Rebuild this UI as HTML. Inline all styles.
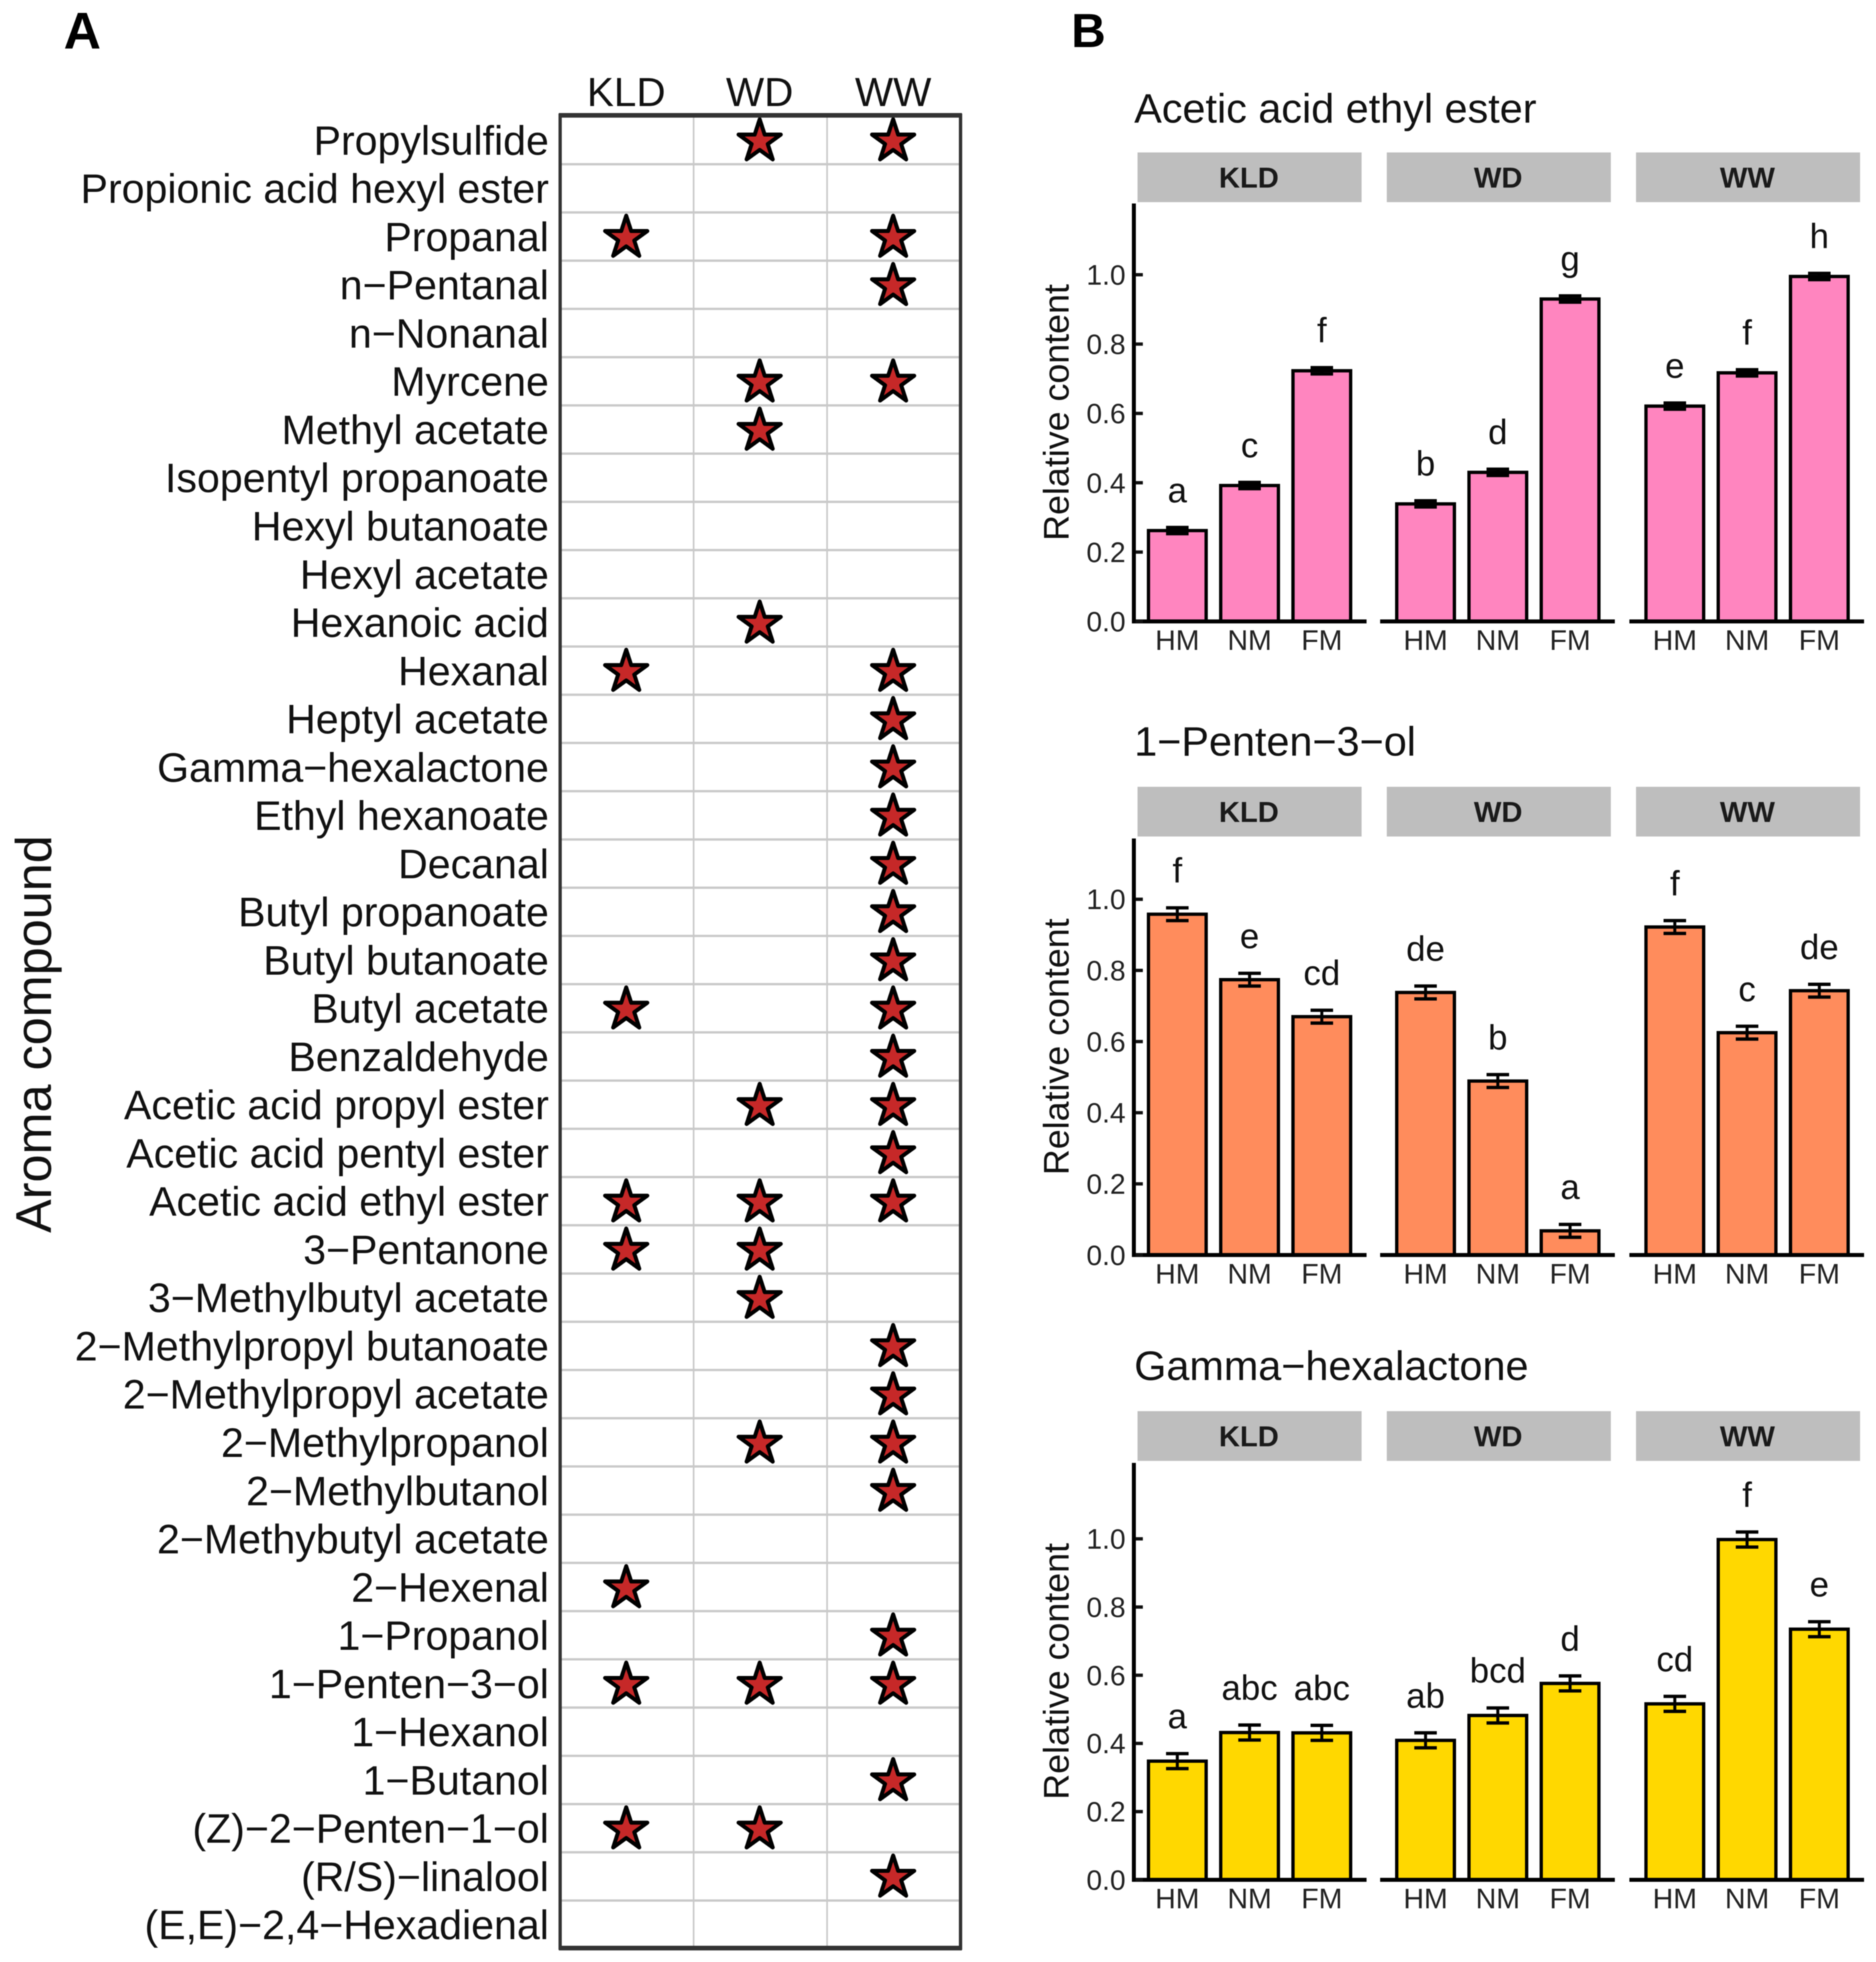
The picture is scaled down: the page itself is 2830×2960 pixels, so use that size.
<!DOCTYPE html>
<html lang="en">
<head>
<meta charset="utf-8">
<title>Aroma compounds and relative content</title>
<style>
html,body{margin:0;padding:0;background:#fff;}
svg{display:block;filter:blur(0.7px);}
text{font-family:"Liberation Sans",Arial,sans-serif;}
</style>
</head>
<body>
<svg id="figure" xmlns="http://www.w3.org/2000/svg" width="2830" height="2960" viewBox="0 0 2830 2960">
  <rect x="0" y="0" width="2830" height="2960" fill="#ffffff"/>
  <text x="96" y="73" font-size="78" font-weight="700" fill="#000">A</text>
  <text x="1616" y="71" font-size="72" font-weight="700" fill="#000">B</text>
  <text transform="translate(77,1560) rotate(-90)" text-anchor="middle" font-size="76" fill="#111">Aroma compound</text>
  <g id="panelA"></g>
  <g id="panelB"></g>
</svg>
<script>
// ---------- Panel A data ----------
const compounds = ["Propylsulfide","Propionic acid hexyl ester","Propanal","n−Pentanal","n−Nonanal","Myrcene","Methyl acetate","Isopentyl propanoate","Hexyl butanoate","Hexyl acetate","Hexanoic acid","Hexanal","Heptyl acetate","Gamma−hexalactone","Ethyl hexanoate","Decanal","Butyl propanoate","Butyl butanoate","Butyl acetate","Benzaldehyde","Acetic acid propyl ester","Acetic acid pentyl ester","Acetic acid ethyl ester","3−Pentanone","3−Methylbutyl acetate","2−Methylpropyl butanoate","2−Methylpropyl acetate","2−Methylpropanol","2−Methylbutanol","2−Methybutyl acetate","2−Hexenal","1−Propanol","1−Penten−3−ol","1−Hexanol","1−Butanol","(Z)−2−Penten−1−ol","(R/S)−linalool","(E,E)−2,4−Hexadienal"];
const treatments = ["KLD","WD","WW"];
const kldStars = ["Propanal","Hexanal","Butyl acetate","Acetic acid ethyl ester","3−Pentanone","2−Hexenal","1−Penten−3−ol","(Z)−2−Penten−1−ol"];
const wdStars = ["Propylsulfide","Myrcene","Methyl acetate","Hexanoic acid","Acetic acid propyl ester","Acetic acid ethyl ester","3−Pentanone","3−Methylbutyl acetate","2−Methylpropanol","1−Penten−3−ol","(Z)−2−Penten−1−ol"];
const wwStars = ["Propylsulfide","Propanal","n−Pentanal","Myrcene","Hexanal","Heptyl acetate","Gamma−hexalactone","Ethyl hexanoate","Decanal","Butyl propanoate","Butyl butanoate","Butyl acetate","Benzaldehyde","Acetic acid propyl ester","Acetic acid pentyl ester","Acetic acid ethyl ester","2−Methylpropyl butanoate","2−Methylpropyl acetate","2−Methylpropanol","2−Methylbutanol","1−Propanol","1−Penten−3−ol","1−Butanol","(R/S)−linalool"];

// ---------- Panel B data ----------
const stages = ["HM","NM","FM"];
const yTickValues = [0,0.2,0.4,0.6,0.8,1.0];
const yTickLabels = ["0.0","0.2","0.4","0.6","0.8","1.0"];
const aceticTitle = "Acetic acid ethyl ester";
const aceticValues = [0.262,0.392,0.723,0.339,0.430,0.930,0.621,0.717,0.995];
const aceticErrors = [0.009,0.009,0.009,0.009,0.009,0.009,0.009,0.009,0.009];
const aceticLetters = ["a","c","f","b","d","g","e","f","h"];
const pentenTitle = "1−Penten−3−ol";
const pentenValues = [0.958,0.774,0.670,0.738,0.489,0.068,0.922,0.625,0.743];
const pentenErrors = [0.018,0.018,0.018,0.018,0.018,0.018,0.018,0.018,0.018];
const pentenLetters = ["f","e","cd","de","b","a","f","c","de"];
const gammaTitle = "Gamma−hexalactone";
const gammaValues = [0.348,0.432,0.431,0.409,0.482,0.576,0.516,0.998,0.735];
const gammaErrors = [0.022,0.022,0.022,0.022,0.022,0.022,0.022,0.022,0.022];
const gammaLetters = ["a","abc","abc","ab","bcd","d","cd","f","e"];

// ---------- helpers ----------
const NS = "http://www.w3.org/2000/svg";
function make(parent, tag, attrs, txt) {
  const el = document.createElementNS(NS, tag);
  for (const k in attrs) el.setAttribute(k, attrs[k]);
  if (txt !== undefined) el.textContent = txt;
  parent.appendChild(el);
  return el;
}

// ---------- Panel A ----------
(function () {
  const root = document.getElementById("panelA");
  const frame = {left: 845, right: 1449, top: 174, bottom: 2939};
  const colW = (frame.right - frame.left) / treatments.length;
  const rowH = (frame.bottom - frame.top) / compounds.length;
  const colX = i => frame.left + colW * (i + 0.5) - 1;
  const rowY = i => frame.top + rowH * (i + 0.5);
  const starSets = [kldStars, wdStars, wwStars];

  compounds.forEach((c, i) => {
    if (i > 0) {
      const g = make(root, "line", {x1: frame.left, x2: frame.right, y1: frame.top + rowH * i + 1, y2: frame.top + rowH * i + 1, stroke: "#c9c9c9", "stroke-width": 3.5});
      
      
    }
  });
  treatments.forEach((t, i) => {
    if (i > 0) {
      const g = make(root, "line", {x1: frame.left + colW * i, x2: frame.left + colW * i, y1: frame.top, y2: frame.bottom, stroke: "#c9c9c9", "stroke-width": 2.5});
      
      
    }
    const h = make(root, "text", {x: colX(i), y: 160, "text-anchor": "middle", "font-size": 61, fill: "#111"}, t);
    
    
  });

  compounds.forEach((c, i) => {
    const lab = make(root, "text", {x: 828, y: rowY(i) + 23, "text-anchor": "end", "font-size": 62, fill: "#111"}, c);
    
    
  });

  const R = 33.5, r = R * 0.382;
  starSets.forEach((set, col) => {
    set.forEach(name => {
      const row = compounds.indexOf(name);
      if (row < 0) return;
      const cx = colX(col), cy = rowY(row) + 3;
      const pts = [];
      for (let k = 0; k < 10; k++) {
        const rad = k % 2 === 0 ? R : r;
        const a = -Math.PI / 2 + k * Math.PI / 5;
        pts.push((cx + rad * Math.cos(a)).toFixed(2) + "," + (cy + rad * Math.sin(a)).toFixed(2));
      }
      const s = make(root, "polygon", {points: pts.join(" "), fill: "#c62828", stroke: "#000", "stroke-width": 6, "stroke-linejoin": "round"});
      
      
    });
  });

  const f = make(root, "rect", {x: frame.left, y: frame.top, width: frame.right - frame.left, height: frame.bottom - frame.top, fill: "none", stroke: "#333", "stroke-width": 5});
  
  
  const ft = make(root, "line", {x1: frame.left - 2, x2: frame.right + 2, y1: frame.top, y2: frame.top, stroke: "#333", "stroke-width": 7});
  
  
  const fb = make(root, "line", {x1: frame.left - 2, x2: frame.right + 2, y1: frame.bottom, y2: frame.bottom, stroke: "#333", "stroke-width": 7});
  
  
})();

// ---------- Panel B ----------
function drawChart(opts) {
  const root = document.getElementById("panelB");
  const group = make(root, "g", {});
  
  
  const panelLeft = [1709.5, 2084, 2460];
  const stripLeft = [1716, 2092, 2468];
  const panelW = 352, stripW = 338, barStep = 109, barInner = 87, firstOff = 66.5;
  const y = v => opts.base - v * opts.unit;
  const x = (p, s) => panelLeft[p] + firstOff + s * barStep;

  const t = make(group, "text", {x: 1711, y: opts.titleY, "font-size": 62.4, fill: "#111"}, opts.title);
  
  

  const yt = make(group, "text", {transform: "translate(1612," + ((opts.axisTop + opts.base) / 2) + ") rotate(-90)", "text-anchor": "middle", "font-size": 54, fill: "#111"}, "Relative content");
  
  

  treatments.forEach((tr, p) => {
    const st = make(group, "rect", {x: stripLeft[p], y: opts.stripTop, width: stripW, height: 75, fill: "#bebebe"});
    
    
    const sl = make(group, "text", {x: stripLeft[p] + stripW / 2 - 1, y: opts.stripTop + 53, "text-anchor": "middle", "font-size": 44, "font-weight": 700, fill: "#1a1a1a"}, tr);
    
    

    stages.forEach((stage, s) => {
      const idx = p * 3 + s;
      const v = opts.values[idx], e = opts.errors[idx], cx = x(p, s);
      const bar = make(group, "rect", {x: cx - barInner / 2, y: y(v), width: barInner, height: opts.base - y(v), fill: opts.color, stroke: "#000", "stroke-width": 5});
      
      

      const ev = make(group, "line", {x1: cx, x2: cx, y1: y(v + e), y2: y(v - e), stroke: "#000", "stroke-width": 4.5});
      
      
      const c1 = make(group, "line", {x1: cx - 17, x2: cx + 17, y1: y(v + e), y2: y(v + e), stroke: "#000", "stroke-width": 5});
      
      
      const c2 = make(group, "line", {x1: cx - 17, x2: cx + 17, y1: y(v - e), y2: y(v - e), stroke: "#000", "stroke-width": 5});
      
      

      const lt = make(group, "text", {x: cx, y: y(v + e) - 38, "text-anchor": "middle", "font-size": 52.5, fill: "#111"}, opts.letters[idx]);
      
      

      const xl = make(group, "text", {x: cx, y: opts.base + 43, "text-anchor": "middle", "font-size": 43, fill: "#222"}, stage);
      
      
    });

    const ax = make(group, "line", {x1: panelLeft[p] - 2, x2: panelLeft[p] + panelW, y1: opts.base, y2: opts.base, stroke: "#000", "stroke-width": 6});
    
    
  });

  const ay = make(group, "line", {x1: 1710.5, x2: 1710.5, y1: opts.axisTop, y2: opts.base, stroke: "#000", "stroke-width": 6});
  
  

  yTickValues.forEach((tv, i) => {
    const tk = make(group, "line", {x1: 1713, x2: 1724, y1: y(tv), y2: y(tv), stroke: "#111", "stroke-width": 5});
    
    
    const tl = make(group, "text", {x: 1698, y: y(tv) + 15, "text-anchor": "end", "font-size": 42.5, fill: "#222"}, yTickLabels[i]);
    
    
  });
}

drawChart({name: "chart-acetic-acid-ethyl-ester", title: aceticTitle, values: aceticValues, errors: aceticErrors, letters: aceticLetters, color: "#ff85bf", titleY: 185, stripTop: 230, axisTop: 307, base: 937.5, unit: 523});
drawChart({name: "chart-1-penten-3-ol", title: pentenTitle, values: pentenValues, errors: pentenErrors, letters: pentenLetters, color: "#ff8c5c", titleY: 1140, stripTop: 1187, axisTop: 1265, base: 1893.4, unit: 536.7});
drawChart({name: "chart-gamma-hexalactone", title: gammaTitle, values: gammaValues, errors: gammaErrors, letters: gammaLetters, color: "#ffd800", titleY: 2082, stripTop: 2129, axisTop: 2207, base: 2836, unit: 514.4});
</script>
</body>
</html>
